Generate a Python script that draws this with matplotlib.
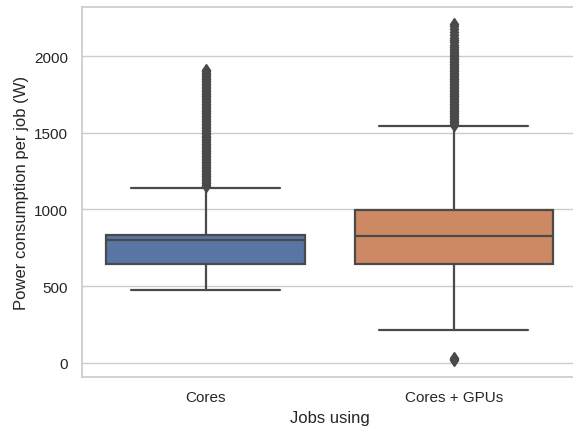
import matplotlib.pyplot as plt
import seaborn as sns

groups = ["Cores", "Cores + GPUs"]
colors = ["#5875a4", "#cc8963"]

# box statistics (W)
q1 = [645, 645]
medians = [801, 827]
q3 = [834, 997]
whisker_lo = [476, 215]
whisker_hi = [1140, 1544]

# outliers above / below the whiskers
fliers_cores = [1150, 1160, 1170, 1180, 1190, 1200, 1210, 1220, 1230, 1240,
                1250, 1260, 1270, 1280, 1290, 1300, 1310, 1320, 1330, 1340,
                1350, 1360, 1370, 1380, 1390, 1400, 1410, 1420, 1430, 1440,
                1450, 1460, 1470, 1480, 1490, 1500, 1510, 1520, 1530, 1540,
                1550, 1560, 1570, 1580, 1590, 1600, 1610, 1620, 1630, 1640,
                1650, 1660, 1670, 1680, 1690, 1700, 1710, 1720, 1730, 1740,
                1750, 1760, 1770, 1780, 1790, 1800, 1810, 1820, 1830, 1840,
                1850, 1860, 1870, 1880, 1890, 1900, 1908]
fliers_gpus = [20, 28, 35,
               1550, 1560, 1570, 1580, 1590, 1600, 1610, 1620, 1630, 1640,
               1650, 1660, 1670, 1680, 1690, 1700, 1710, 1720, 1730, 1740,
               1750, 1760, 1770, 1780, 1790, 1800, 1810, 1820, 1830, 1840,
               1850, 1860, 1870, 1880, 1890, 1900, 1910, 1920, 1930, 1940,
               1950, 1960, 1970, 1980, 1990, 2000, 2010, 2020, 2030, 2045,
               2060, 2075, 2090, 2105, 2120, 2140, 2160, 2175, 2195, 2212]

sns.set_theme(style="whitegrid")
plt.rcParams['font.family'] = ['Liberation Sans', 'DejaVu Sans']

fig = plt.figure(figsize=(5.73, 4.27), dpi=100)
# axes run slightly past the right edge of the canvas
ax = fig.add_axes([81.5 / 573, 0.115, 496.5 / 573, 0.866])

stats = []
for i, name in enumerate(groups):
    stats.append({
        "label": name,
        "q1": q1[i], "med": medians[i], "q3": q3[i],
        "whislo": whisker_lo[i], "whishi": whisker_hi[i],
        "fliers": fliers_cores if i == 0 else fliers_gpus,
    })

line_col = "#4a4a4a"
bp = ax.bxp(stats, positions=[0, 1], widths=0.8, patch_artist=True,
            boxprops=dict(edgecolor=line_col, linewidth=1.6),
            medianprops=dict(color=line_col, linewidth=1.6),
            whiskerprops=dict(color=line_col, linewidth=1.6),
            capprops=dict(color=line_col, linewidth=1.6),
            flierprops=dict(marker="d", markerfacecolor=line_col,
                            markeredgecolor=line_col, markersize=6))
for patch, c in zip(bp["boxes"], colors):
    patch.set_facecolor(c)
for cap in bp["caps"]:
    x = cap.get_xdata()
    mid = (x[0] + x[1]) / 2
    cap.set_xdata([mid - 0.3, mid + 0.3])

ax.set_xlim(-0.5, 1.5)
ax.set_ylim(-91, 2319)
ax.set_xticks([0, 1])
ax.set_xticklabels(groups)
ax.grid(axis="x", visible=False)
ax.set_xlabel("Jobs using", fontsize=12)
ax.set_ylabel("Power consumption per job (W)", fontsize=12)
ax.tick_params(labelsize=11, colors="#262626")

fig.savefig("out.png", dpi=100)
